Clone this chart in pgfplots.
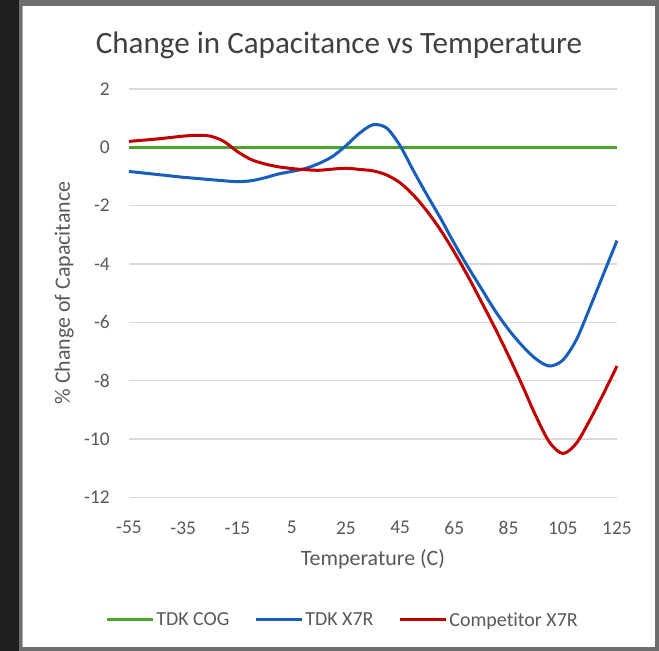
\documentclass[border=0pt]{standalone}
\usepackage{fontspec}
\setmainfont{Carlito}[Ligatures=NoCommon]
\usepackage{pgfplots}
\pgfplotsset{compat=1.18}

\definecolor{cogGreen}{RGB}{76,163,44}
\definecolor{x7rBlue}{RGB}{24,94,186}
\definecolor{compRed}{RGB}{192,0,0}
\definecolor{gridGray}{RGB}{217,217,217}
\definecolor{txtGray}{RGB}{89,89,89}
\definecolor{titleGray}{RGB}{64,64,64}
\definecolor{frameDark}{RGB}{31,31,31}
\definecolor{frameGray}{RGB}{110,110,110}

\begin{document}
\begin{tikzpicture}[x=1bp,y=1bp]
\path[use as bounding box] (0,0) rectangle (659,651);
% window frame around the chart
\fill[frameGray] (0,0) rectangle (659,651);
\fill[frameDark] (0,0) rectangle (19,651);
\fill[black!30] (22,4) rectangle (655,645);
\fill[white] (23,4) rectangle (655,645);

\begin{axis}[
  at={(129bp,153.7bp)}, anchor=south west,
  scale only axis, width=488bp, height=408.4bp,
  xmin=-55, xmax=125, ymin=-12, ymax=2,
  axis line style={draw=none},
  major tick length=0,
  xtick={-55,-35,-15,5,25,45,65,85,105,125},
  xticklabels={-55,-35,-15,5,25,45,65,85,105,125},
  ytick={-12,-10,-8,-6,-4,-2,0,2},
  yticklabels={-12,-10,-8,-6,-4,-2,0,2},
  ymajorgrids,
  grid style={gridGray, line width=1.3bp},
  tick label style={font=\fontsize{19.5}{19.5}\selectfont, text=txtGray, inner sep=0pt},
  yticklabel style={anchor=east, xshift=-19bp},
  xticklabel style={anchor=north, yshift=-24bp},
  xlabel={Temperature (C)},
  ylabel={\% Change of Capacitance},
  label style={font=\fontsize{22}{22}\selectfont, text=txtGray},
  xlabel style={at={(axis description cs:0.5,-0.151)}, anchor=center},
  ylabel style={at={(axis description cs:-0.133,0.5)}, anchor=center, rotate=0},
  legend columns=-1,
  legend style={at={(axis description cs:0.4375,-0.3004)}, anchor=center,
    draw=none, fill=none, font=\fontsize{20}{20}\selectfont, text=txtGray,
    nodes={inner sep=1.5bp},
    /tikz/every even column/.append style={column sep=24bp}},
  legend image code/.code={\draw[#1, sharp plot] (0,0) -- (46bp,0);},
  clip=false,
]
\addplot[cogGreen, line width=3bp] coordinates {(-55,0) (125,0)};
\addlegendentry{TDK COG}

\addplot[x7rBlue, line width=3bp, smooth] coordinates {
(-55,-0.83) (-50,-0.88) (-45,-0.93) (-40,-0.98) (-35,-1.03) (-30,-1.07)
(-25,-1.11) (-20,-1.15) (-15,-1.18) (-10,-1.15) (-5,-1.05) (0,-0.92)
(5,-0.83) (10,-0.73) (15,-0.56) (20,-0.32) (25,0.05) (30,0.48)
(35,0.77) (40,0.66) (45,0.05) (50,-0.82) (55,-1.65) (60,-2.45)
(65,-3.30) (70,-4.10) (75,-4.85) (80,-5.60) (85,-6.25) (90,-6.80)
(95,-7.25) (100,-7.50) (105,-7.30) (110,-6.60) (115,-5.50) (120,-4.35)
(125,-3.20)};
\addlegendentry{TDK X7R}

\addplot[compRed, line width=3bp, smooth] coordinates {
(-55,0.20) (-50,0.24) (-45,0.28) (-40,0.33) (-35,0.38) (-30,0.41)
(-25,0.38) (-20,0.20) (-15,-0.15) (-10,-0.42) (-5,-0.57) (0,-0.67)
(5,-0.73) (10,-0.77) (15,-0.79) (20,-0.75) (25,-0.72) (30,-0.76)
(35,-0.81) (40,-0.95) (45,-1.22) (50,-1.65) (55,-2.20) (60,-2.85)
(65,-3.60) (70,-4.42) (75,-5.30) (80,-6.20) (85,-7.15) (90,-8.15)
(95,-9.20) (100,-10.10) (105,-10.50) (110,-10.15) (115,-9.35) (120,-8.45)
(125,-7.50)};
\addlegendentry{Competitor X7R}
\end{axis}

\node[font=\fontsize{31.2}{31.2}\selectfont, text=titleGray] at (339,606)
  {Change in Capacitance vs Temperature};
\end{tikzpicture}
\end{document}
